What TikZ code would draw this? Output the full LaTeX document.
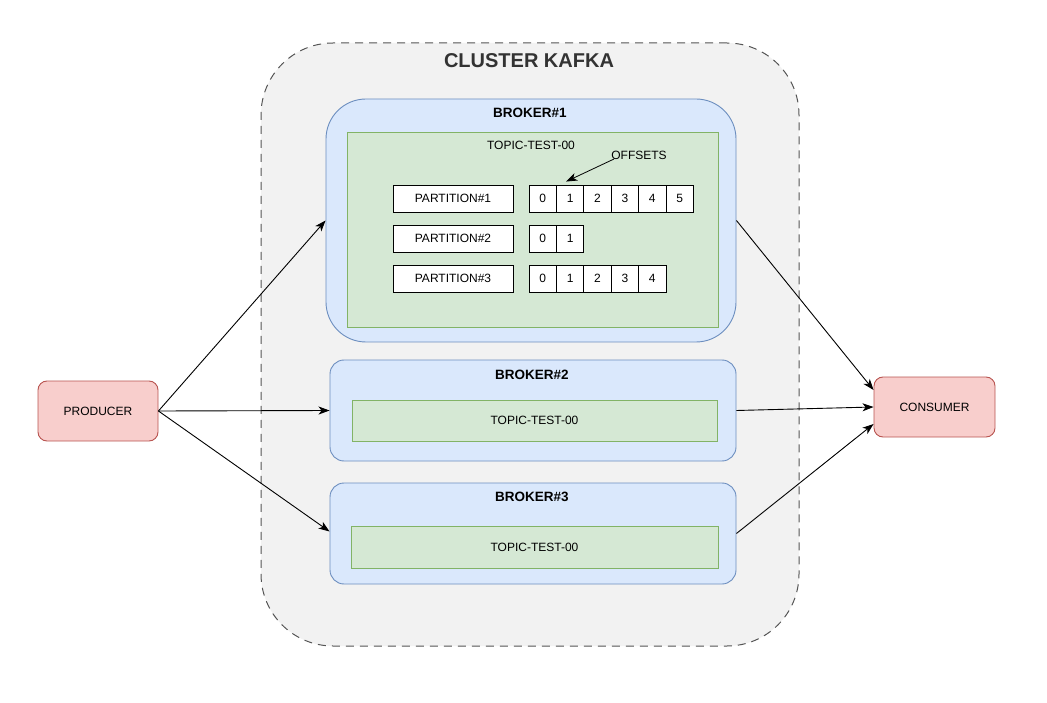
\documentclass[tikz,border=0pt]{standalone}
\usepackage{fontspec}
\setmainfont{Liberation Sans}
\usetikzlibrary{positioning,arrows.meta}

\definecolor{clusterfill}{HTML}{F2F2F2}
\definecolor{clusterline}{HTML}{555555}
\definecolor{brokerfill}{HTML}{DAE8FC}
\definecolor{brokerline}{HTML}{6C8EBF}
\definecolor{topicfill}{HTML}{D5E8D4}
\definecolor{topicline}{HTML}{82B366}
\definecolor{clientfill}{HTML}{F8CECC}
\definecolor{clientline}{HTML}{B85450}

\tikzset{
    txt/.style={font=\fontsize{12}{14}\selectfont},
    brokerbox/.style={draw=brokerline, fill=brokerfill, line width=0.9pt, rounded corners=#1, inner sep=0pt},
    topicbox/.style={draw=topicline, fill=topicfill, line width=0.9pt, txt, inner sep=0pt},
    partbox/.style={draw, fill=white, line width=0.9pt, txt, minimum width=120pt, minimum height=27pt, inner sep=0pt},
    cellbox/.style={draw, fill=white, line width=0.9pt, txt, minimum width=27.4pt, minimum height=27pt, inner sep=0pt},
    clientbox/.style={draw=clientline, fill=clientfill, line width=0.9pt, rounded corners=9pt, txt, minimum height=60pt, inner sep=0pt},
    brokertitle/.style={font=\fontsize{13.5}{16}\selectfont\bfseries},
    flow/.style={-{Stealth[length=11pt,width=8pt,inset=3pt]}, line width=0.9pt}
}

\begin{document}
\begin{tikzpicture}[x=1pt, y=-1pt]
    \useasboundingbox (0,0) rectangle (1047,703);

    % Cluster
    \node [draw=clusterline, fill=clusterfill, dash pattern=on 8pt off 6pt, line width=1pt,
           rounded corners=72pt, minimum width=538pt, minimum height=603pt, inner sep=0pt]
        (cluster) at (530, 344.5) {};
    \node [font=\fontsize{20}{24}\selectfont\bfseries, text=black!80] (clustertitle) at (529, 61) {CLUSTER KAFKA};

    % Broker 1
    \node [brokerbox=40pt, minimum width=410pt, minimum height=243pt] (broker1) at (531, 220.5) {};
    \node [brokertitle] (b1title) at (530, 113) {BROKER\#1};
    \node [topicbox, minimum width=371pt, minimum height=195pt] (topic1) at (532.5, 229.5) {};
    \node [txt] (t1title) at (531, 145) {TOPIC-TEST-00};

    % Partitions
    \node [partbox] (part1) at (453, 198.5) {PARTITION\#1};
    \node [partbox] (part2) at (453, 238.5) {PARTITION\#2};
    \node [partbox] (part3) at (453, 278.5) {PARTITION\#3};

    % Offsets
    \foreach \i in {0,...,5}
        \node [cellbox] (c1\i) at (542.7+27.4*\i, 198.5) {\i};
    \foreach \i in {0,1}
        \node [cellbox] (c2\i) at (542.7+27.4*\i, 238.5) {\i};
    \foreach \i in {0,...,4}
        \node [cellbox] (c3\i) at (542.7+27.4*\i, 278.5) {\i};

    \node [txt] (offsets) at (639, 155) {OFFSETS};
    \draw [-{Stealth[length=11pt,width=8pt,inset=3pt]}, line width=0.8pt]
        ([xshift=-25pt, yshift=-4pt]offsets.center) -- ([xshift=-4pt, yshift=3pt]c11.north);

    % Broker 2
    \node [brokerbox=14pt, minimum width=406pt, minimum height=101pt] (broker2) at (533, 410.5) {};
    \node [brokertitle] (b2title) at (532, 375) {BROKER\#2};
    \node [topicbox, minimum width=365pt, minimum height=41pt] (topic2) at (534.5, 420.5) {TOPIC-TEST-00};

    % Broker 3
    \node [brokerbox=14pt, minimum width=406pt, minimum height=101pt] (broker3) at (533, 533.5) {};
    \node [brokertitle] (b3title) at (532, 497) {BROKER\#3};
    \node [topicbox, minimum width=367pt, minimum height=42pt] (topic3) at (534.5, 547) {TOPIC-TEST-00};

    % Producer and consumer
    \node [clientbox, minimum width=120pt] (producer) at (98, 411) {PRODUCER};
    \node [clientbox, minimum width=121pt] (consumer) at (934.5, 407) {CONSUMER};

    % Flows
    \draw [flow] (producer.east) -- (broker1.west);
    \draw [flow] (producer.east) -- (broker2.west);
    \draw [flow] (producer.east) -- ([yshift=2pt]broker3.west);
    \draw [flow] (broker1.east) -- ([yshift=17pt]consumer.west);
    \draw [flow] (broker2.east) -- (consumer.west);
    \draw [flow] (broker3.east) -- ([yshift=-17pt]consumer.west);
\end{tikzpicture}
\end{document}
